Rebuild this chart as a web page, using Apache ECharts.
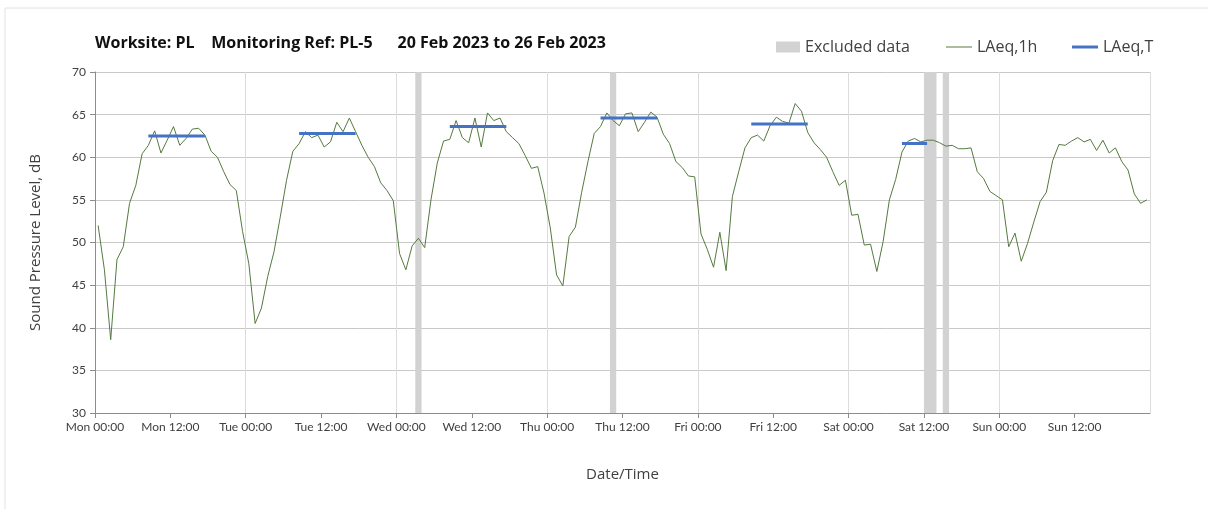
<!DOCTYPE html>
<html>
<head>
<meta charset="utf-8">
<script src="https://cdn.jsdelivr.net/npm/echarts@6/dist/echarts.min.js"></script>
<style>
	html, body { margin: 0; padding: 0; background: #fff; }
	#container { width: 1208px; height: 509px; }
</style>
</head>
<body>
<div id="container"></div>
<script>
// hourly LAeq,1h, Mon 00:00 .. Sun 23:00 (one value per hour)
var laeq1h = [
	52.0, 46.8, 38.6, 48.0, 49.5, 54.6, 56.7, 60.4, 61.4, 63.1, 60.5, 62.0, 63.6, 61.4, 62.2, 63.3, 63.4, 62.6, 60.7, 60.0, 58.3, 56.8, 56.1, 51.3,
	47.5, 40.5, 42.3, 46.0, 48.9, 53.0, 57.3, 60.7, 61.6, 63.0, 62.3, 62.6, 61.2, 61.8, 64.1, 63.0, 64.6, 63.0, 61.4, 60.0, 58.9, 57.0, 56.1, 54.9,
	48.7, 46.8, 49.6, 50.5, 49.4, 55.0, 59.3, 61.9, 62.1, 64.3, 62.3, 61.7, 64.6, 61.2, 65.2, 64.3, 64.6, 63.0, 62.3, 61.6, 60.2, 58.7, 58.9, 55.8,
	51.7, 46.2, 44.9, 50.7, 51.8, 55.9, 59.5, 62.8, 63.6, 65.2, 64.3, 63.7, 65.1, 65.2, 63.0, 64.1, 65.3, 64.7, 62.7, 61.6, 59.5, 58.8, 57.8, 57.7,
	51.0, 49.2, 47.1, 51.2, 46.7, 55.4, 58.3, 61.1, 62.3, 62.6, 61.9, 63.7, 64.7, 64.2, 64.0, 66.3, 65.4, 62.9, 61.7, 60.9, 60.0, 58.3, 56.7, 57.3,
	53.2, 53.3, 49.7, 49.8, 46.6, 50.1, 55.0, 57.4, 60.6, 61.9, 62.2, 61.8, 62.0, 62.0, 61.7, 61.3, 61.4, 61.0, 61.0, 61.1, 58.3, 57.5, 56.0, 55.5,
	55.0, 49.5, 51.1, 47.8, 49.9, 52.4, 54.8, 55.9, 59.6, 61.5, 61.4, 61.9, 62.3, 61.8, 62.1, 60.8, 62.0, 60.5, 61.1, 59.5, 58.5, 55.7, 54.6, 55.0
];

// LAeq,T periods (hours from Mon 00:00)
var periodStart = [8.5, 32.5, 56.5, 80.5, 104.5, 128.5];
var periodEnd = [17.5, 41.5, 65.5, 89.5, 113.5, 132.5];
var laeqT = [62.5, 62.8, 63.6, 64.6, 63.9, 61.6];

// excluded data (hours from Mon 00:00)
var excludedStart = [51, 82, 132, 135];
var excludedEnd = [52, 83, 134, 136];

var dayNames = ['Mon', 'Tue', 'Wed', 'Thu', 'Fri', 'Sat', 'Sun'];
var yTicks = [30, 35, 40, 45, 50, 55, 60, 65, 70];

var fontName = 'Lato, "Open Sans", sans-serif';
var titleFont = '"Open Sans", Lato, sans-serif';

var lineData = [];
for (var i = 0; i < laeq1h.length; i++) {
	lineData.push([i + 0.5, laeq1h[i]]);
}

var tData = [];
for (var j = 0; j < laeqT.length; j++) {
	tData.push([periodStart[j], laeqT[j]]);
	tData.push([periodEnd[j], laeqT[j]]);
	tData.push(null);
}

var exAreas = [];
for (var k = 0; k < excludedStart.length; k++) {
	exAreas.push([{ xAxis: excludedStart[k] }, { xAxis: excludedEnd[k] }]);
}

var chart = echarts.init(document.getElementById('container'));

var legendText = { fontSize: 16, color: '#404040', fontFamily: titleFont };

var option = {
	animation: false,
	backgroundColor: '#fff',
	textStyle: { fontFamily: fontName },
	title: {
		text: 'Worksite: PL    Monitoring Ref: PL-5      20 Feb 2023 to 26 Feb 2023',
		left: 90,
		top: 30,
		textStyle: { fontSize: 16, fontWeight: 'bold', color: '#111', fontFamily: titleFont }
	},
	legend: [{
		data: ['Excluded data'],
		left: 776,
		top: 39,
		padding: 0,
		icon: 'rect',
		itemWidth: 24,
		itemHeight: 11,
		textStyle: legendText
	}, {
		data: ['LAeq,1h'],
		left: 946,
		top: 39,
		padding: 0,
		icon: 'rect',
		itemWidth: 26,
		itemHeight: 1,
		textStyle: legendText
	}, {
		data: ['LAeq,T'],
		left: 1072,
		top: 39,
		padding: 0,
		icon: 'rect',
		itemWidth: 26,
		itemHeight: 3,
		textStyle: legendText
	}],
	grid: {
		left: 95,
		right: 58,
		top: 72,
		bottom: 96
	},
	xAxis: [{
		type: 'value',
		min: 0,
		max: 168,
		interval: 12,
		name: 'Date/Time',
		nameLocation: 'middle',
		nameGap: 54,
		nameTextStyle: { fontSize: 15, color: '#404040', fontFamily: titleFont },
		axisLine: { lineStyle: { color: '#8c8c8c' } },
		axisTick: { show: true, length: 5, lineStyle: { color: '#8c8c8c' } },
		axisLabel: {
			fontSize: 12,
			color: '#404040',
			margin: 8,
			showMaxLabel: false,
			formatter: function(v) {
				var d = Math.floor(v / 24);
				return dayNames[d] + ' ' + (v % 24 == 0 ? '00:00' : '12:00');
			}
		},
		splitLine: { show: false }
	}, {
		type: 'value',
		min: 0,
		max: 168,
		interval: 24,
		position: 'bottom',
		axisLine: { show: false },
		axisTick: { show: false },
		axisLabel: { show: false },
		splitLine: { show: true, lineStyle: { color: '#dcdcdc' } }
	}],
	yAxis: {
		type: 'value',
		min: yTicks[0],
		max: yTicks[yTicks.length - 1],
		interval: 5,
		name: 'Sound Pressure Level, dB',
		nameLocation: 'middle',
		nameGap: 52,
		nameTextStyle: { fontSize: 15, color: '#404040', fontFamily: titleFont },
		axisLine: { show: true, lineStyle: { color: '#8c8c8c' } },
		axisTick: { show: true, length: 5, lineStyle: { color: '#8c8c8c' } },
		axisLabel: { fontSize: 12, color: '#404040', margin: 9 },
		splitLine: { lineStyle: { color: '#c8c8c8' } }
	},
	series: [{
		name: 'Excluded data',
		type: 'line',
		data: [],
		z: 1,
		itemStyle: { color: '#d2d2d2' },
		markArea: {
			silent: true,
			itemStyle: { color: '#d2d2d2' },
			data: exAreas
		}
	}, {
		name: 'LAeq,1h',
		type: 'line',
		data: lineData,
		z: 3,
		symbol: 'none',
		itemStyle: { color: '#557a40' },
		lineStyle: { color: '#557a40', width: 1 }
	}, {
		name: 'LAeq,T',
		type: 'line',
		data: tData,
		z: 4,
		symbol: 'none',
		connectNulls: false,
		itemStyle: { color: '#4472c4' },
		lineStyle: { color: '#4472c4', width: 3 }
	}],
	graphic: [{
		type: 'rect',
		shape: { x: 5, y: 8, width: 1220, height: 520 },
		style: { fill: 'none', stroke: '#e2e2e2', lineWidth: 1 },
		silent: true,
		z: -1
	}]
};

chart.setOption(option);
</script>
</body>
</html>
